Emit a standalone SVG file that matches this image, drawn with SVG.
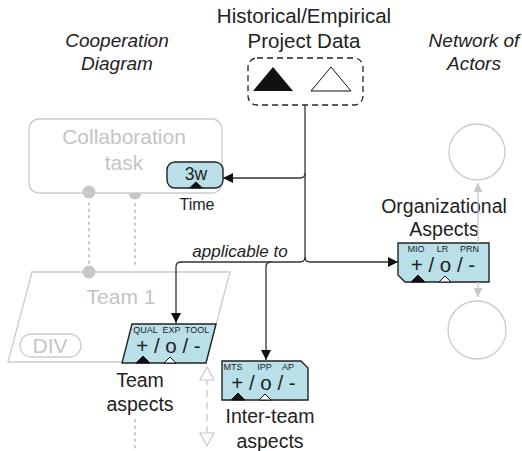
<svg xmlns="http://www.w3.org/2000/svg" width="522" height="451" viewBox="0 0 522 451">
<defs>
<style>
text{font-family:"Liberation Sans",Arial,sans-serif;fill:#222}
.it{font-style:italic}
.ghost{fill:#fff;stroke:#cbcbcb;stroke-width:1.3}
.gtxt{fill:#c4c4c4}
.gdot{fill:#c8c8c8}
.dots{stroke:#c8c8c8;stroke-width:2;stroke-dasharray:1.5,5;stroke-linecap:round;fill:none}
.asp{fill:#b9dfe8;stroke:#222;stroke-width:1.4}
.con{fill:none;stroke:#333;stroke-width:1.3}
.lbl{font-size:9px;text-anchor:middle}
.sym{font-size:20.5px;text-anchor:middle}
.cap{font-size:19.5px;text-anchor:middle}
.tb{fill:#111;stroke:#111;stroke-width:1}
.tw{fill:#fff;stroke:#111;stroke-width:1}
</style>
<marker id="ah" viewBox="0 0 10 10" refX="10" refY="5" markerWidth="10" markerHeight="10" markerUnits="userSpaceOnUse" orient="auto">
<path d="M0,0 L10,5 L0,10 z" fill="#111"/>
</marker>
<marker id="gh" viewBox="0 0 10 10" refX="10" refY="5" markerWidth="9" markerHeight="9" markerUnits="userSpaceOnUse" orient="auto">
<path d="M0,0 L10,5 L0,10 z" fill="#c8c8c8"/>
</marker>
</defs>

<g id="titles">
<text x="304" y="23" font-size="20.5" text-anchor="middle">Historical/Empirical</text>
<text x="304" y="48" font-size="20.5" text-anchor="middle">Project Data</text>
<text class="it" x="117" y="47" font-size="19" text-anchor="middle">Cooperation</text>
<text class="it" x="117" y="70" font-size="19" text-anchor="middle">Diagram</text>
<text class="it" x="474" y="47" font-size="19" text-anchor="middle">Network of</text>
<text class="it" x="474" y="70" font-size="19" text-anchor="middle">Actors</text>
</g>

<g id="project-data">
<rect x="248" y="58" width="115" height="47" rx="9" fill="none" stroke="#222" stroke-width="1.3" stroke-dasharray="6,4"/>
<polygon points="253,91 293,91 273,67" fill="#111"/>
<polygon points="311,91 351,91 331,67" fill="#fff" stroke="#111" stroke-width="1"/>
</g>

<g id="collaboration-task">
<circle class="gdot" cx="135" cy="193" r="6.5"/>
<rect class="ghost" x="29" y="119" width="193" height="74" rx="10"/>
<circle class="gdot" cx="89" cy="192" r="6.5"/>
<text class="gtxt" x="124" y="144" font-size="21" text-anchor="middle">Collaboration</text>
<text class="gtxt" x="124" y="170" font-size="21" text-anchor="middle">task</text>
</g>

<g id="ghost-links">
<line class="dots" x1="89" y1="203" x2="89" y2="264"/>
<line class="dots" x1="135" y1="204" x2="135" y2="266"/>
<line class="dots" x1="135" y1="420" x2="135" y2="451"/>
</g>

<g id="team1">
<polygon class="ghost" points="32,272 230,272 206,362 8,362"/>
<circle class="gdot" cx="89" cy="272" r="6.5"/>
<text class="gtxt" x="121" y="304" font-size="21" text-anchor="middle">Team 1</text>
<rect x="20" y="334" width="61" height="23" rx="11.5" fill="none" stroke="#cbcbcb" stroke-width="1.3"/>
<text class="gtxt" x="50" y="353" font-size="21" text-anchor="middle">DIV</text>
</g>

<g id="time">
<rect class="asp" x="167" y="162" width="56" height="26" rx="8"/>
<polygon class="tb" points="189.5,188 202.5,188 196,182"/>
<text x="196" y="180" font-size="17.5" text-anchor="middle">3w</text>
<text x="197" y="210" font-size="16" text-anchor="middle">Time</text>
</g>

<g id="team-aspects">
<polygon class="asp" points="132,324 216,324 206,363 122,363"/>
<text class="lbl" x="145.5" y="333">QUAL</text>
<text class="lbl" x="171.5" y="333">EXP</text>
<text class="lbl" x="197" y="333">TOOL</text>
<text class="sym" x="168.5" y="353">+ / o / -</text>
<polygon class="tb" points="136,363 150,363 143,356"/>
<polygon class="tw" points="164,363 176,363 170,357"/>
<text class="cap" x="140" y="387">Team</text>
<text class="cap" x="140" y="411">aspects</text>
</g>

<g id="inter-team-aspects">
<polygon class="asp" points="222,361 301,361 308,368 308,400 222,400"/>
<text class="lbl" x="233" y="370">MTS</text>
<text class="lbl" x="264.5" y="370">IPP</text>
<text class="lbl" x="288" y="370">AP</text>
<text class="sym" x="263.5" y="390">+ / o / -</text>
<polygon class="tb" points="231,400 245,400 238,393"/>
<polygon class="tw" points="259,400 271,400 265,394"/>
<text class="cap" x="270" y="423">Inter-team</text>
<text class="cap" x="270" y="448">aspects</text>
</g>

<g id="organizational-aspects">
<polygon class="asp" points="398,243 489,243 489,282 405,282 398,275"/>
<text class="lbl" x="416" y="252">MIO</text>
<text class="lbl" x="442.5" y="252">LR</text>
<text class="lbl" x="469.5" y="252">PRN</text>
<text class="sym" x="443" y="272">+ / o / -</text>
<polygon class="tb" points="411,282 425,282 418,275"/>
<polygon class="tw" points="439,282 451,282 445,276"/>
<text class="cap" x="444" y="213">Organizational</text>
<text class="cap" x="444" y="236">Aspects</text>
</g>

<g id="actor-top"><circle cx="477" cy="152" r="28" fill="none" stroke="#cbcbcb" stroke-width="1.3"/></g>
<g id="actor-bottom"><circle cx="477" cy="330" r="29" fill="none" stroke="#cbcbcb" stroke-width="1.3"/></g>

<g id="connectors">
<path class="con" d="M305,105 V257 Q305,262 310,262 H398" marker-end="url(#ah)"/>
<path class="con" d="M305,173 Q305,178 300,178 H223" marker-end="url(#ah)"/>
<path class="con" d="M305,257 Q305,262 300,262 H181 Q176,262 176,267 V323" marker-end="url(#ah)"/>
<path class="con" d="M271,262 Q266,262 266,267 V360" marker-end="url(#ah)"/>
<text class="it" x="240" y="257" font-size="17" text-anchor="middle">applicable to</text>
<line x1="478" y1="243" x2="478" y2="183" stroke="#c8c8c8" stroke-width="1.3" marker-end="url(#gh)"/>
<line x1="478" y1="282" x2="478" y2="297" stroke="#c8c8c8" stroke-width="1.3" marker-end="url(#gh)"/>
<line x1="207" y1="378" x2="207" y2="436" stroke="#c8c8c8" stroke-width="1.3" stroke-dasharray="7,5"/>
<polygon points="200,380 214,380 207,367" fill="#fff" stroke="#c8c8c8" stroke-width="1.2"/>
<polygon points="200,433 214,433 207,446" fill="#fff" stroke="#c8c8c8" stroke-width="1.2"/>
</g>
</svg>
